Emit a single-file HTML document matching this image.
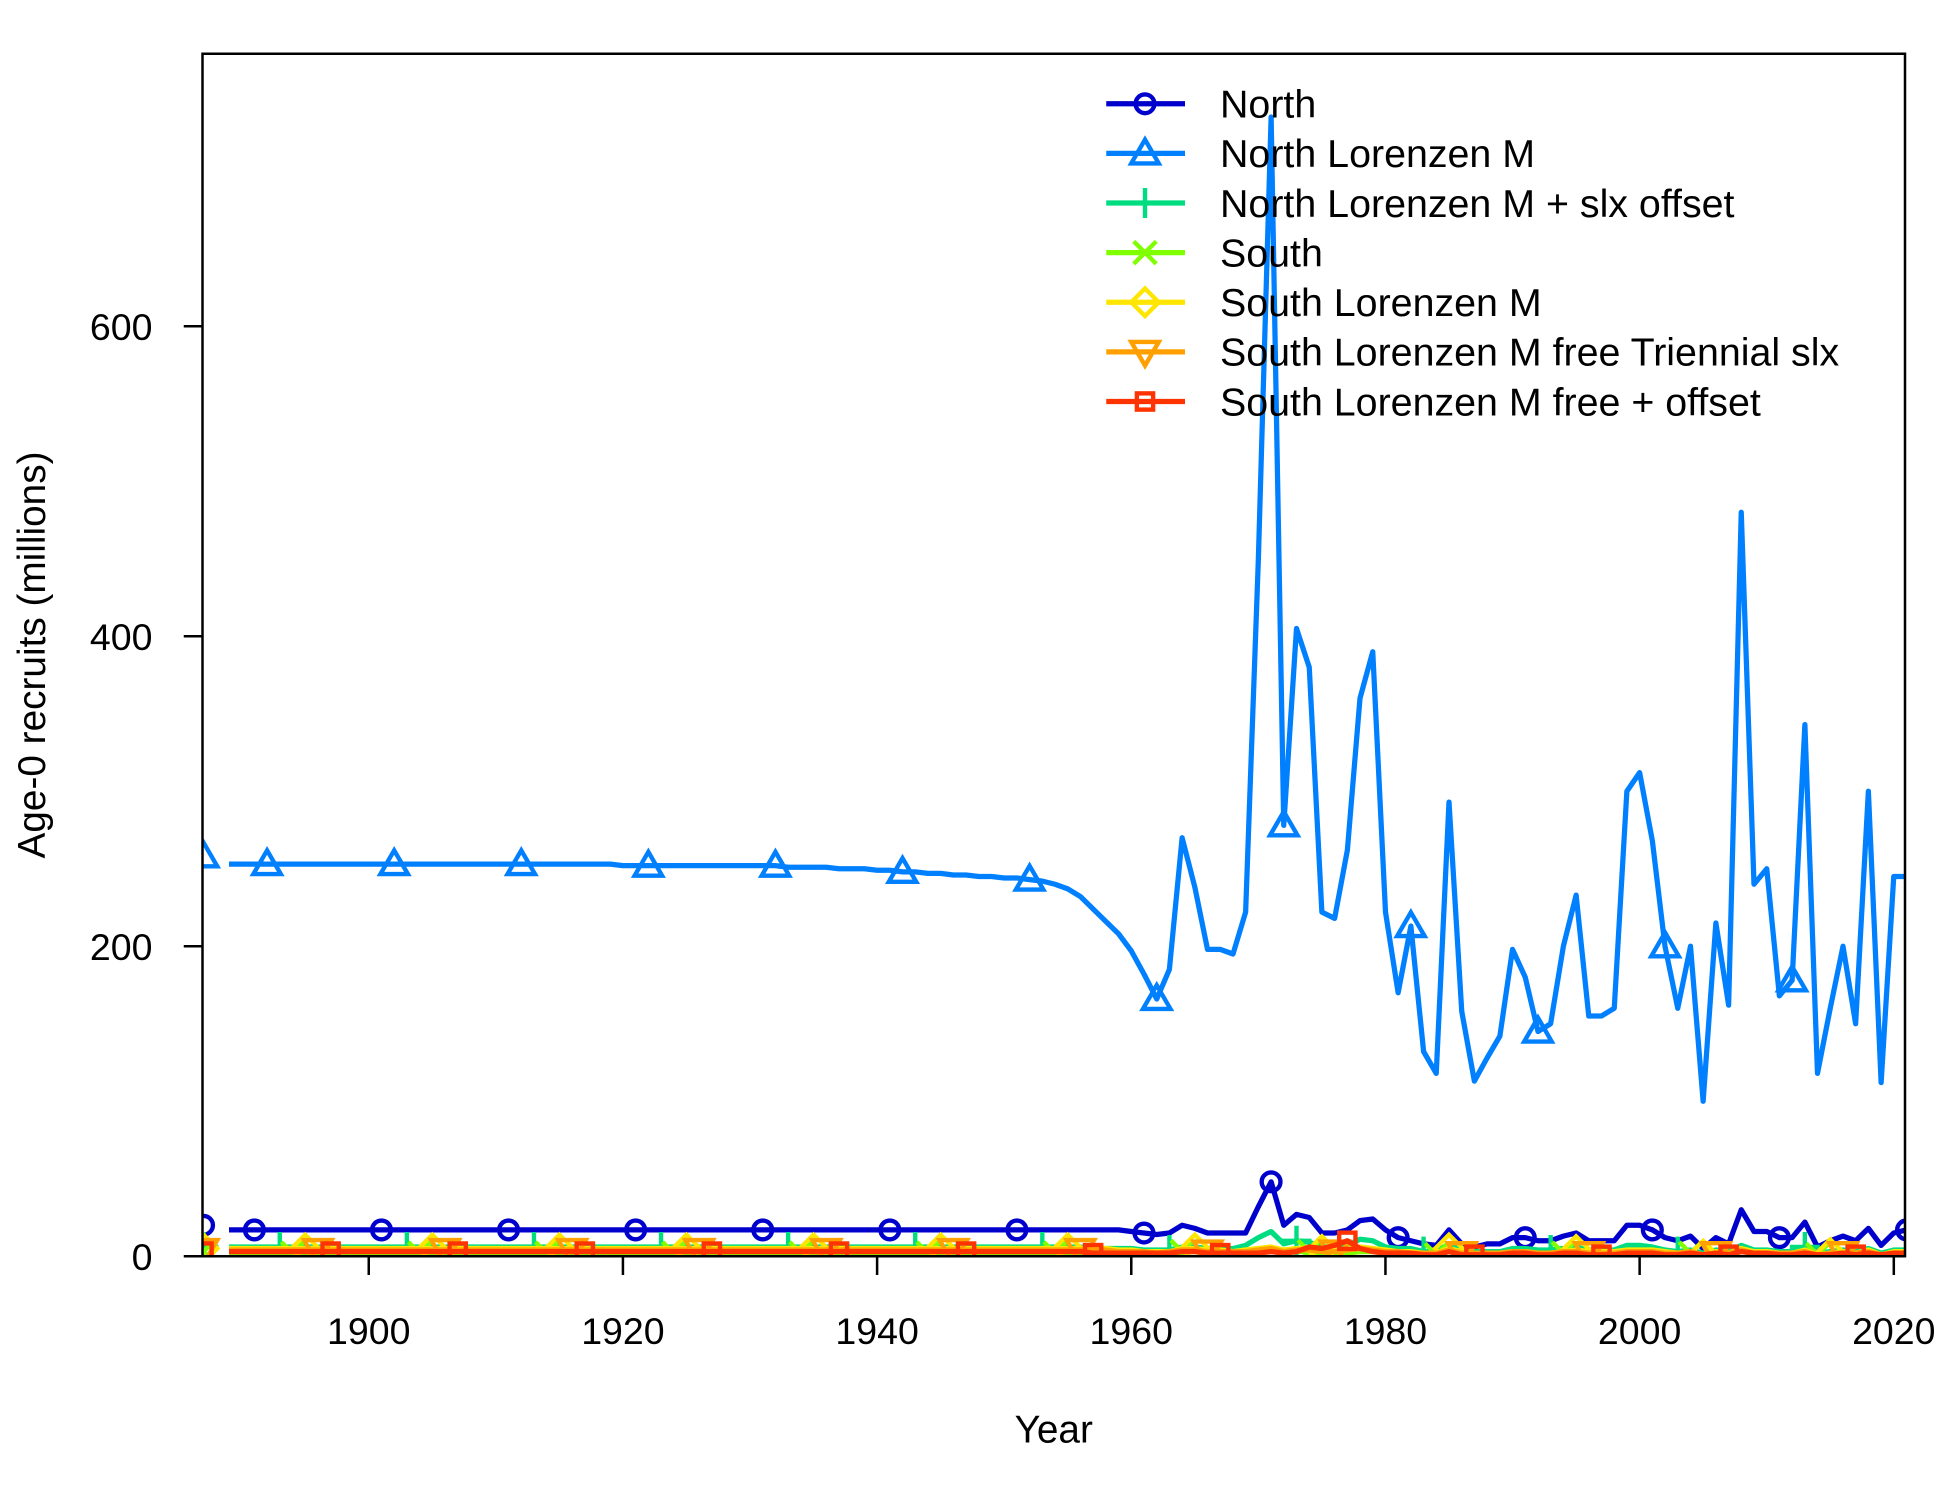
<!DOCTYPE html>
<html><head><meta charset="utf-8"><style>
html,body{margin:0;padding:0;background:#fff;}
svg{display:block;font-family:"Liberation Sans",Arial,sans-serif;}
</style></head><body>
<svg id="chart" width="1950" height="1500" viewBox="0 0 1560 1200" xmlns="http://www.w3.org/2000/svg">
<defs><clipPath id="plotclip"><rect x="162" y="43" width="1362" height="962"/></clipPath></defs>
<g id="series" clip-path="url(#plotclip)"></g>
<rect x="162" y="43" width="1362" height="962" fill="none" stroke="#000" stroke-width="2"/>
<g id="xaxis"></g>
<g id="yaxis"></g>
<text x="843" y="1154" font-size="31" text-anchor="middle">Year</text>
<text transform="translate(36,524) rotate(-90)" font-size="31" text-anchor="middle">Age-0 recruits (millions)</text>
<g id="legend"></g>
</svg>
<script>
const startYear = 1887;
const seriesNames = ["North","North Lorenzen M","North Lorenzen M + slx offset","South","South Lorenzen M","South Lorenzen M free Triennial slx","South Lorenzen M free + offset"];
const seriesColors = ["#0000CC","#0080FF","#00DD80","#80FF00","#FFE600","#FFA000","#FF3300"];
const xTicks = [1900,1920,1940,1960,1980,2000,2020];
const yTicks = [0,200,400,600];

const northVals = [20,null,
17,17,17,17,17,17,17,17,17,17,17,
17,17,17,17,17,17,17,17,17,17, 17,17,17,17,17,17,17,17,17,17, 17,17,17,17,17,17,17,17,17,17, 17,17,17,17,17,17,17,17,17,17, 17,17,17,17,17,17,17,17,17,17,
17,17,17,17,17,17,17,17,17,17,
16,15,14,15,20,18,15,15,15,15, 32,48,20,27,25,15,15,17,23,24, 17,12,10,8,7,17,8,6,8,8, 12,12,10,10,13,15,10,10,10,20, 20,17,12,10,13,5,12,8,30,16, 16,12,12,22,6,10,13,10,18,7, 15,17];
const northLorVals = [258,null,
253,253,253,253,253,253,253,253,253,253,253,
253,253,253,253,253,253,253,253,253,253, 253,253,253,253,253,253,253,253,253,253, 252,252,252,252,252,252,252,252,252,252, 252,252,252,251,251,251,251,250,250,250, 249,249,248,248,247,247,246,246,245,245,
244,244,243,242,240,237,232,224,216,208,
197,182,166,185,270,238,198,198,195,222, 450,735,278,405,380,222,218,262,360,390, 222,170,213,132,118,293,158,113,128,142, 198,180,145,150,200,233,155,155,160,300, 312,268,200,160,200,100,215,162,480,240, 250,168,178,343,118,160,200,150,300,112, 245,245];
const northSlxVals = [6,null,
6,6,6,6,6,6,6,6,6,6,6,
6,6,6,6,6,6,6,6,6,6, 6,6,6,6,6,6,6,6,6,6, 6,6,6,6,6,6,6,6,6,6, 6,6,6,6,6,6,6,6,6,6, 6,6,6,6,6,6,6,6,6,6,
6,6,6,6,6,6,6,5,5,5,
5,4,4,4,6,6,5,5,5,7, 12,16,8,10,9,6,6,7,11,10, 6,5,5,3,3,8,4,3,3,3, 5,5,4,4,5,6,4,4,4,7, 7,6,4,3,4,2,4,3,7,4, 4,3,3,6,2,3,4,3,5,2, 4,4];
const southVals = [3,null,
2,2,2,2,2,2,2,2,2,2,2,
2,2,2,2,2,2,2,2,2,2, 2,2,2,2,2,2,2,2,2,2, 2,2,2,2,2,2,2,2,2,2, 2,2,2,2,2,2,2,2,2,2, 2,2,2,2,2,2,2,2,2,2,
2,2,2,2,2,2,2,2,2,2,
2,2,2,2,3,3,2,2,2,3, 3,4,2,3,3,2,2,2,3,3, 2,2,2,1,1,3,1,1,1,1, 2,2,1,1,2,2,1,1,1,2, 2,2,1,1,2,1,2,1,3,2, 2,1,1,2,1,1,2,1,2,1, 2,2];
const southLorVals = [5,null,
5,5,5,5,5,5,5,5,5,5,5,
5,5,5,5,5,5,5,5,5,5, 5,5,5,5,5,5,5,5,5,5, 5,5,5,5,5,5,5,5,5,5, 5,5,5,5,5,5,5,5,5,5, 5,5,5,5,5,5,5,5,5,5,
5,5,5,5,5,5,5,5,5,4,
4,3,3,3,5,5,4,4,3,4, 5,6,4,5,5,4,4,5,6,5, 4,3,3,2,2,5,3,2,2,2, 3,3,2,2,3,4,3,3,3,4, 4,4,3,2,3,1,3,2,5,3, 3,2,2,4,1,2,3,2,4,1, 3,3];
const southTriVals = [4,null,
4,4,4,4,4,4,4,4,4,4,4,
4,4,4,4,4,4,4,4,4,4, 4,4,4,4,4,4,4,4,4,4, 4,4,4,4,4,4,4,4,4,4, 4,4,4,4,4,4,4,4,4,4, 4,4,4,4,4,4,4,4,4,4,
4,4,4,4,4,4,4,4,4,3,
3,3,2,3,4,4,3,3,3,3, 4,5,3,4,4,3,3,4,5,4, 3,3,2,2,2,4,2,2,2,2, 3,3,2,2,3,3,2,2,2,3, 3,3,2,2,3,1,2,2,4,2, 2,2,2,3,1,2,2,2,3,1, 2,2];
const southOffVals = [3,null,
3,3,3,3,3,3,3,3,3,3,3,
3,3,3,3,3,3,3,3,3,3, 3,3,3,3,3,3,3,3,3,3, 3,3,3,3,3,3,3,3,3,3, 3,3,3,3,3,3,3,3,3,3, 3,3,3,3,3,3,3,3,3,3,
3,3,3,3,3,3,3,2,2,2,
2,2,2,2,3,3,2,2,2,2, 2,3,2,3,6,5,7,10,5,3, 2,2,2,1,1,3,1,1,1,1, 2,2,1,1,2,2,1,1,1,2, 2,2,1,1,2,1,2,1,3,2, 2,1,1,2,1,1,2,1,2,1, 2,2];
const allSeries = [northVals,northLorVals,northSlxVals,southVals,southLorVals,southTriVals,southOffVals];
const markers = ["circle","triUp","plus","cross","diamond","triDown","square"];

const NS="http://www.w3.org/2000/svg";
function xs(yr){return 295+(yr-1900)*10.167;}
function ys(v){return 1005-v*1.24;}
function mk(tag,attrs,parent){const e=document.createElementNS(NS,tag);for(const k in attrs)e.setAttribute(k,attrs[k]);parent.appendChild(e);return e;}
function drawMarker(type,x,y,color,parent){
  const s={stroke:color,"stroke-width":3.5,fill:"none"};
  let e;
  if(type==="circle") e=mk("circle",Object.assign({cx:x,cy:y,r:7.5},s),parent);
  else if(type==="triUp") e=mk("polygon",Object.assign({points:`${x},${y-11} ${x+11},${y+8} ${x-11},${y+8}`},s),parent);
  else if(type==="triDown") e=mk("polygon",Object.assign({points:`${x},${y+11} ${x+11},${y-8} ${x-11},${y-8}`},s),parent);
  else if(type==="plus") e=mk("path",Object.assign({d:`M${x-12},${y}H${x+12}M${x},${y-12}V${y+12}`},s),parent);
  else if(type==="cross") e=mk("path",Object.assign({d:`M${x-9},${y-9}L${x+9},${y+9}M${x-9},${y+9}L${x+9},${y-9}`},s),parent);
  else if(type==="diamond") e=mk("polygon",Object.assign({points:`${x},${y-11} ${x+11},${y} ${x},${y+11} ${x-11},${y}`},s),parent);
  else e=mk("rect",Object.assign({x:x-6.5,y:y-6.5,width:13,height:13},s),parent);
  return e;
}
const sg=document.getElementById("series");
allSeries.forEach((vals,i)=>{
  const g=mk("g",{},sg);
  
  
  let d="",pen=false;
  vals.forEach((v,k)=>{
    if(v===null){pen=false;return;}
    const x=xs(startYear+k),y=ys(v);
    d+=(pen?"L":"M")+x.toFixed(1)+","+y.toFixed(1);pen=true;
  });
  const p=mk("path",{d:d,fill:"none",stroke:seriesColors[i],"stroke-width":4.2,"stroke-linejoin":"round"},g);
  
  
  vals.forEach((v,k)=>{
    if(v===null)return;
    const yr=startYear+k;
    if(k===0 || (yr-(1891+i))%10===0){
      const m=drawMarker(markers[i],xs(yr),ys(v),seriesColors[i],g);
      
      
    }
  });
});
const xa=document.getElementById("xaxis");
xTicks.forEach(t=>{
  const l=mk("line",{x1:xs(t),x2:xs(t),y1:1005,y2:1020,stroke:"#000","stroke-width":2},xa);
  
  
  const tx=mk("text",{x:xs(t),y:1075,"font-size":30,"text-anchor":"middle"},xa);
  tx.textContent=t;
  
  
});
const ya=document.getElementById("yaxis");
yTicks.forEach(t=>{
  const l=mk("line",{x1:147,x2:162,y1:ys(t),y2:ys(t),stroke:"#000","stroke-width":2},ya);
  
  
  const tx=mk("text",{x:122,y:ys(t)+11,"font-size":30,"text-anchor":"end"},ya);
  tx.textContent=t;
  
  
});
const lg=document.getElementById("legend");
seriesNames.forEach((n,i)=>{
  const y=83+i*39.7;
  const g=mk("g",{},lg);
  
  
  mk("line",{x1:885,x2:948,y1:y,y2:y,stroke:seriesColors[i],"stroke-width":4.2},g);
  drawMarker(markers[i],916,y,seriesColors[i],g);
  const t=mk("text",{x:976,y:y+11,"font-size":31.5},g);
  t.textContent=n;
});
</script>
</body></html>
